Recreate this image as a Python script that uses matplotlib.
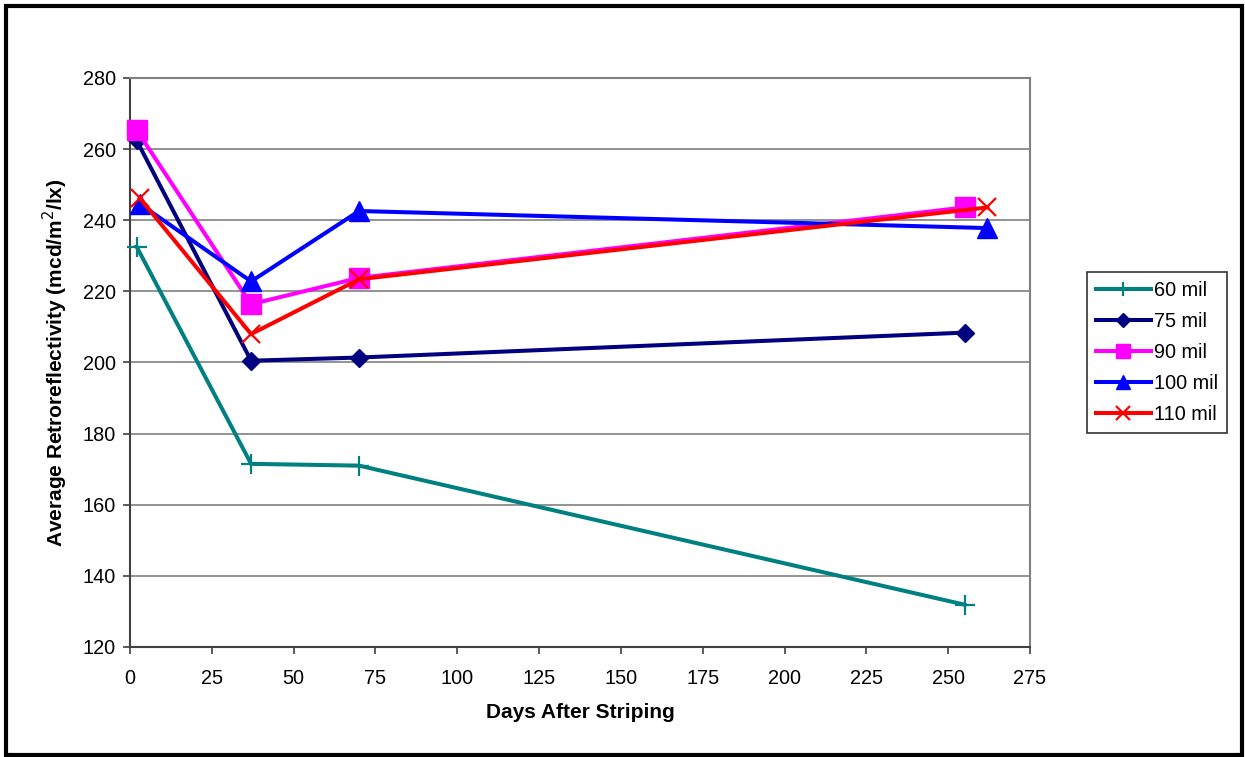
import matplotlib
matplotlib.use("Agg")
import matplotlib.pyplot as plt
from matplotlib.patches import Rectangle

plt.rcParams['font.family'] = ['Liberation Sans', 'DejaVu Sans']

series_names = ["60 mil", "75 mil", "90 mil", "100 mil", "110 mil"]
days_60 = [2, 37, 70, 255]
vals_60 = [232.6, 171.5, 171.0, 131.9]
days_75 = [2, 37, 70, 255]
vals_75 = [262.5, 200.5, 201.4, 208.4]
days_90 = [2, 37, 70, 255]
vals_90 = [265.4, 216.4, 223.8, 243.6]
days_100 = [3, 37, 70, 262]
vals_100 = [244.6, 222.8, 242.6, 237.8]
days_110 = [3, 37, 70, 262]
vals_110 = [246.2, 208.0, 223.4, 243.6]

x_ticks = [0, 25, 50, 75, 100, 125, 150, 175, 200, 225, 250, 275]
y_ticks = [120, 140, 160, 180, 200, 220, 240, 260, 280]

fig = plt.figure(figsize=(12.45, 7.57), dpi=100)
ax = fig.add_axes([130/1245, 1-647/757, 900/1245, 569/757])

styles = [
    dict(color="#008080", marker="+", ms=14, mew=1.6),
    dict(color="#000080", marker="D", ms=9, mew=1),
    dict(color="#FF00FF", marker="s", ms=14, mew=1),
    dict(color="#0000FF", marker="^", ms=14, mew=1),
    dict(color="#FF0000", marker="x", ms=13, mew=1.6),
]
data = [(days_60, vals_60), (days_75, vals_75), (days_90, vals_90),
        (days_100, vals_100), (days_110, vals_110)]
for name, (d, v), st in zip(series_names, data, styles):
    ax.plot(d, v, color=st["color"], lw=2.9, marker=st["marker"], ms=st["ms"],
            mew=st["mew"], mfc=st["color"], mec=st["color"], label=name,
            solid_joinstyle="miter", clip_on=False, zorder=3)

ax.set_xlim(0, 275)
ax.set_ylim(120, 280)
ax.set_xticks(x_ticks)
ax.set_yticks(y_ticks)
ax.yaxis.grid(True, color="#808080", lw=1.2)
ax.set_axisbelow(True)
for s in ["top", "right"]:
    ax.spines[s].set_color("#808080")
    ax.spines[s].set_linewidth(1.5)
for s in ["left", "bottom"]:
    ax.spines[s].set_color("#404040")
    ax.spines[s].set_linewidth(1.5)
ax.tick_params(axis="both", direction="out", length=5, width=1.2,
               labelsize=14.3, color="#404040", pad=5)
ax.tick_params(axis="x", pad=11)

ax.set_xlabel("Days After Striping", fontsize=15, fontweight="bold", labelpad=11)
ax.set_ylabel("Average Retroreflectivity (mcd/m$^2$/lx)", fontsize=15,
              fontweight="bold", labelpad=9)

leg = fig.legend(loc="upper left", bbox_to_anchor=(1087/1245, 1-272/757),
                 fontsize=14.3, frameon=True, fancybox=False, handlelength=2.75,
                 handletextpad=0.15, labelspacing=0.6, borderpad=0.45,
                 borderaxespad=0, markerscale=0.75)
leg.get_frame().set_edgecolor("black")
leg.get_frame().set_linewidth(1.2)

fig.patches.append(Rectangle((6/1245, 1-755/757), 1236/1245, 749/757,
                             transform=fig.transFigure, fill=False,
                             edgecolor="black", lw=3))

fig.savefig("out.png", dpi=100)
